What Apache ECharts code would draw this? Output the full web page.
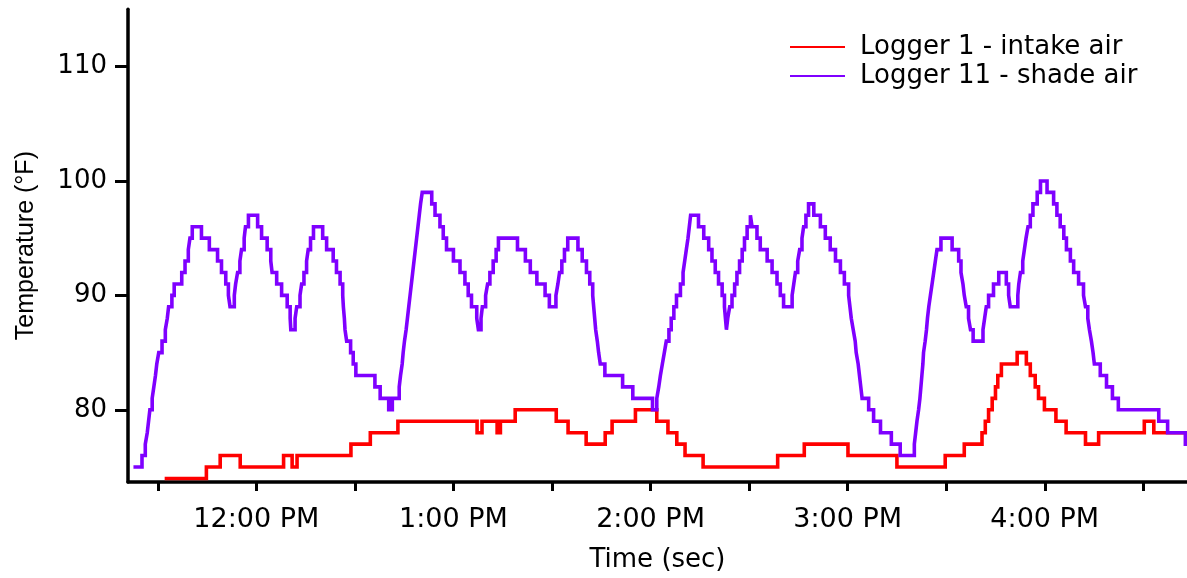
<!DOCTYPE html>
<html>
<head>
<meta charset="utf-8">
<script src="https://cdn.jsdelivr.net/npm/echarts@6/dist/echarts.min.js"></script>
<style>
  html, body { margin: 0; padding: 0; background: #fff; }
  #chart { width: 1187px; height: 578px; }
</style>
</head>
<body>
<div id="chart"></div>
<script>
// Logged temperatures as [minute of day, °F]; each reading holds until the next one.
const intakeAir = [
  [692.1,74],[704.8,75],[709.0,76],[715.1,75],[728.3,76],[730.9,75],[732.4,76],[748.8,77],
  [754.7,78],[763.1,79],[787.2,78],[788.7,79],[793.3,78],[794.3,79],[798.8,80],[811.3,79],
  [814.9,78],[820.4,77],[826.2,78],[828.3,79],[835.4,80],[841.9,79],[845.3,78],[848.0,77],
  [850.5,76],[856.0,75],[878.7,76],[886.8,77],[900.1,76],[915.0,75],[929.7,76],[935.5,77],
  [940.9,78],[941.9,79],[942.9,80],[944.0,81],[945.0,82],[945.7,83],[946.8,84],[951.6,85],
  [954.4,84],[955.6,83],[957.1,82],[958.1,81],[959.9,80],[963.4,79],[966.5,78],[972.4,77],
  [976.4,78],[990.3,79],[993.2,78],[1005,78]
];

const shadeAir = [
  [682.6,75],[685.2,76],[686.2,77],[686.8,78],[687.2,79],[687.6,80],[688.3,81],[688.8,82],
  [689.3,83],[689.7,84],[690.3,85],[691.3,86],[692.3,87],[692.9,88],[693.3,89],[694.3,90],
  [695.0,91],[697.3,92],[698.3,93],[699.3,94],[699.8,95],[700.5,96],[703.3,95],[705.7,94],
  [708.2,93],[709.4,92],[710.7,91],[711.5,90],[712.0,89],[713.3,90],[713.7,91],[714.3,92],
  [715.0,93],[715.5,94],[716.3,95],[716.7,96],[717.6,97],[720.4,96],[721.6,95],[723.3,94],
  [724.4,93],[724.8,92],[726.2,91],[727.7,90],[729.4,89],[730.3,88],[730.5,87],[731.8,88],
  [732.3,89],[733.3,90],[733.8,91],[734.5,92],[735.3,93],[735.8,94],[736.5,95],[737.4,96],
  [740.2,95],[741.4,94],[743.4,93],[744.4,92],[745.5,91],[746.3,90],[746.5,89],[746.8,88],
  [747.0,87],[747.5,86],[748.7,85],[749.5,84],[750.3,83],[756.1,82],[757.7,81],[760.3,80],
  [761.4,81],[763.5,82],[763.9,83],[764.4,84],[764.7,85],[765.1,86],[765.6,87],[766.0,88],
  [766.4,89],[766.8,90],[767.2,91],[767.6,92],[768.0,93],[768.4,94],[768.8,95],[769.2,96],
  [769.6,97],[770.0,98],[770.5,99],[773.4,98],[774.4,97],[775.9,96],[776.9,95],[777.9,94],
  [780.0,93],[782.0,92],[783.5,91],[784.5,90],[785.5,89],[787.1,88],[787.6,87],[788.4,88],
  [788.8,89],[789.8,90],[790.4,91],[791.1,92],[792.1,93],[793.0,94],[793.7,95],[799.5,94],
  [801.9,93],[803.4,92],[805.4,91],[807.9,90],[809.2,89],[811.2,90],[811.8,91],[812.3,92],
  [813.0,93],[813.8,94],[814.8,95],[817.9,94],[819.2,93],[820.5,92],[821.5,91],[822.4,90],
  [822.7,89],[823.0,88],[823.3,87],[823.8,86],[824.2,85],[824.7,84],[826.1,83],[831.5,82],
  [834.6,81],[840.6,80],[841.9,81],[842.5,82],[843.0,83],[843.6,84],[844.2,85],[844.8,86],
  [845.6,87],[846.3,88],[847.1,89],[847.9,90],[849.1,91],[849.9,92],[850.4,93],[850.9,94],
  [851.4,95],[851.8,96],[852.2,97],[854.6,96],[856.2,95],[857.7,94],[858.7,93],[859.7,92],
  [860.7,91],[861.8,90],[862.5,89],[862.8,88],[863.1,87],[863.5,88],[864.1,89],[864.8,90],
  [865.6,91],[866.3,92],[867.1,93],[867.9,94],[868.6,95],[869.4,96],[870.4,97],[870.9,96],
  [872.4,95],[873.4,94],[875.5,93],[877.0,92],[878.5,91],[879.5,90],[880.5,89],[883.1,90],
  [883.6,91],[884.1,92],[884.8,93],[885.4,94],[886.1,95],[886.6,96],[887.3,97],[888.1,98],
  [889.7,97],[891.7,96],[893.2,95],[894.7,94],[896.3,93],[897.8,92],[899.0,91],[900.3,90],
  [900.7,89],[901.1,88],[901.7,87],[902.3,86],[902.6,85],[903.2,84],[903.6,83],[904.0,82],
  [904.4,81],[906.4,80],[907.9,79],[910.0,78],[913.3,77],[916.0,76],[920.3,77],[920.7,78],
  [921.1,79],[921.6,80],[922.0,81],[922.3,82],[922.6,83],[922.9,84],[923.1,85],[923.6,86],
  [924.0,87],[924.3,88],[924.7,89],[925.2,90],[925.7,91],[926.2,92],[926.7,93],[927.2,94],
  [928.4,95],[931.8,94],[933.8,93],[934.5,92],[935.1,91],[935.5,90],[936.1,89],[936.8,88],
  [937.4,87],[938.2,86],[941.2,87],[941.7,88],[942.2,89],[942.9,90],[944.4,91],[946.0,92],
  [948.3,91],[949.0,90],[949.5,89],[951.8,90],[952.1,91],[952.6,92],[953.3,93],[953.8,94],
  [954.3,95],[954.9,96],[955.6,97],[956.4,98],[957.7,99],[958.7,100],[960.7,99],[962.7,98],
  [963.7,97],[964.7,96],[965.8,95],[966.6,94],[967.8,93],[968.8,92],[970.3,91],[971.8,90],
  [972.4,89],[973.1,88],[973.6,87],[974.2,86],[974.7,85],[975.1,84],[976.9,83],[978.8,82],
  [980.6,81],[982.4,80],[994.7,79],[997.4,78],[1002.8,77],[1005,77]
];

// Axis marks: labelled hours, half-hour ticks, temperature ticks
const hourLabels = [720, 780, 840, 900, 960];
const halfHourTicks = [690, 720, 750, 780, 810, 840, 870, 900, 930, 960, 990];
const tempTicks = [80, 90, 100, 110];

const seriesNames = ['Logger 1 - intake air', 'Logger 11 - shade air'];
const seriesColors = ['#ff0000', '#7f00ff'];

function clockLabel(m) {
  const h = Math.floor(m / 60);
  const mm = Math.round(m - h * 60);
  const h12 = ((h + 11) % 12) + 1;
  return h12 + ':' + String(mm).padStart(2, '0') + ' ' + (h >= 12 ? 'PM' : 'AM');
}

const chart = echarts.init(document.getElementById('chart'), null, { renderer: 'canvas' });

const textFont = 'DejaVu Sans';

function stepSeries(i, data) {
  return {
    name: seriesNames[i],
    type: 'line',
    step: 'end',
    data: data,
    showSymbol: false,
    symbol: 'none',
    color: seriesColors[i],
    lineStyle: { width: 3.6, color: seriesColors[i], join: 'miter' },
    clip: true
  };
}

chart.setOption({
  animation: false,
  backgroundColor: '#ffffff',
  grid: {
    left: 128, right: 0, top: 9.3, bottom: 96,
    containLabel: false, outerBoundsMode: 'none'
  },
  legend: {
    orient: 'vertical',
    left: 785, top: 29,
    icon: 'rect',
    itemWidth: 55, itemHeight: 2,
    itemGap: 3,
    data: seriesNames,
    textStyle: { fontFamily: textFont, fontSize: 26, color: '#000', padding: [0, 0, 0, 10] }
  },
  xAxis: {
    type: 'value',
    min: 680.94, max: 1003.3,
    name: 'Time (sec)',
    nameLocation: 'middle',
    nameGap: 65,
    nameTextStyle: { fontFamily: textFont, fontSize: 26, color: '#000' },
    axisLine: { show: true, onZero: false, lineStyle: { color: '#000', width: 3.5 } },
    axisTick: { show: true, length: 9, customValues: halfHourTicks, lineStyle: { color: '#000', width: 3 } },
    axisLabel: {
      customValues: hourLabels,
      formatter: clockLabel,
      margin: 24,
      fontFamily: textFont, fontSize: 27, color: '#000'
    },
    splitLine: { show: false }
  },
  yAxis: {
    type: 'value',
    min: 73.69, max: 115,
    name: 'Temperature (°F)',
    nameLocation: 'middle',
    nameGap: 89,
    nameTextStyle: { fontFamily: 'Liberation Sans', fontSize: 25, color: '#000' },
    axisLine: { show: true, onZero: false, lineStyle: { color: '#000', width: 3.5 } },
    axisTick: { show: true, length: 13, customValues: tempTicks, lineStyle: { color: '#000', width: 3 } },
    axisLabel: {
      customValues: tempTicks,
      margin: 21,
      fontFamily: textFont, fontSize: 26, color: '#000'
    },
    splitLine: { show: false }
  },
  series: [stepSeries(0, intakeAir), stepSeries(1, shadeAir)]
});
</script>
</body>
</html>
